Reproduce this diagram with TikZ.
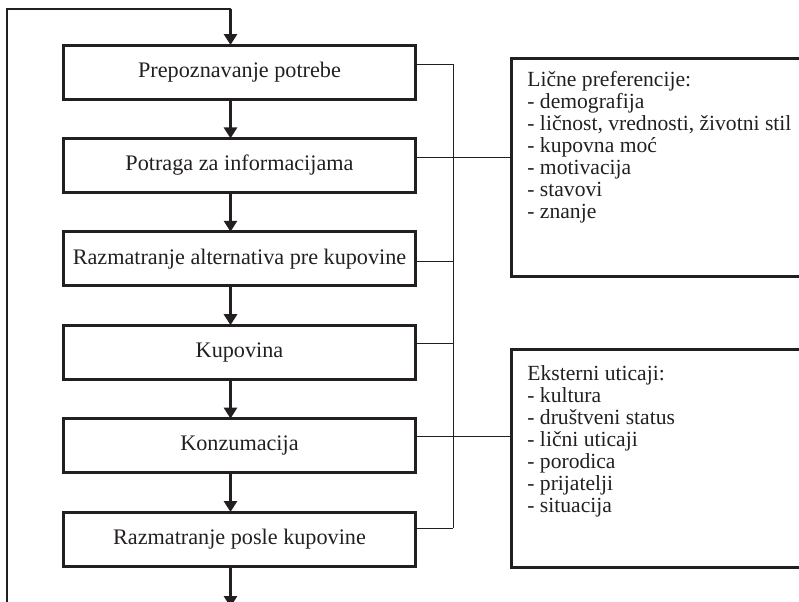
\documentclass[tikz,border=0pt]{standalone}
\usepackage{fontspec}
\setmainfont{Liberation Serif}
\usepackage{xcolor}
\definecolor{inkcolor}{HTML}{231F20}
\usepackage{tikz}
\usetikzlibrary{positioning,arrows.meta}
\tikzset{
    stage/.style={
        rectangle,
        draw=inkcolor,
        text=inkcolor,
        minimum height=27pt,
        minimum width=176pt,
        align=center,
        line width=1.5pt,
        outer sep=0pt,
        font=\fontsize{11.1}{11}\selectfont,
    },
    factorbox/.style={
        rectangle,
        draw=inkcolor,
        minimum height=109pt,
        minimum width=160pt,
        line width=1.5pt,
        outer sep=0pt,
        anchor=north west,
    },
    factortext/.style={
        text=inkcolor,
        align=left,
        inner sep=0pt,
        anchor=north west,
        font=\fontsize{10.8}{11}\selectfont,
    },
    flow/.style={
        -{Triangle[length=5.5pt,width=6.5pt]},
        line width=1.5pt,
        inkcolor,
    },
    link/.style={
        line width=0.75pt,
        inkcolor,
    },
    feedback/.style={
        line width=1pt,
        inkcolor,
    },
}
\begin{document}
\begin{tikzpicture}[x=0.5pt, y=-0.5pt, node distance=19.7pt]
    \clip (0,0) rectangle (799,601);
    % stages of the decision process
    \node[stage] (recog) at (239.5,72) {Prepoznavanje potrebe};
    \node[stage, below=of recog] (search) {Potraga za informacijama};
    \node[stage, below=of search] (evalpre) {Razmatranje alternativa pre kupovine};
    \node[stage, below=of evalpre] (purchase) {Kupovina};
    \node[stage, below=of purchase] (consume) {Konzumacija};
    \node[stage, below=of consume] (evalpost) {Razmatranje posle kupovine};
    \foreach \a/\b in {recog/search, search/evalpre, evalpre/purchase, purchase/consume, consume/evalpost}
        \draw[flow] ([xshift=-4.5pt]\a.south) -- ([xshift=-4.5pt]\b.north);
    % loop back to the start
    \coordinate (exit) at (230.5,607);
    \coordinate (loopout) at (7,610);
    \coordinate (loopin) at (230.5,9);
    \draw[flow] ([xshift=-4.5pt]evalpost.south) -- (exit);
    \draw[feedback] (loopout) |- (loopin);
    \draw[flow] (loopin) -- (loopin |- recog.north);
    % influence boxes
    \node[factorbox] (prefs) at (511.5,58.2) {};
    \node[factortext] (prefslist) at ([shift={(15.5,13)}]prefs.north west)
        {Lične preferencije:\\- demografija\\- ličnost, vrednosti, životni stil\\- kupovna moć\\- motivacija\\- stavovi\\- znanje};
    \node[factorbox] (extern) at (511.5,349.8) {};
    \node[factortext] (externlist) at ([shift={(15.5,15)}]extern.north west)
        {Eksterni uticaji:\\- kultura\\- društveni status\\- lični uticaji\\- porodica\\- prijatelji\\- situacija};
    % bus between stages and influences
    \coordinate (bus) at (453.3,0);
    \foreach \n/\s in {recog/3.85, search/4, evalpre/-1.45, purchase/4.45, consume/4.45, evalpost/5.35}
        \draw[link] ([yshift=\s pt]\n.east) -- ([yshift=\s pt]\n.east -| bus);
    \draw[link] ([yshift=3.85pt]recog.east -| bus) -- ([yshift=5.35pt]evalpost.east -| bus);
    \draw[link] ([yshift=4pt]search.east -| bus) -- ([yshift=4pt]search.east -| prefs.west);
    \draw[link] ([yshift=4.45pt]consume.east -| bus) -- ([yshift=4.45pt]consume.east -| extern.west);
\end{tikzpicture}
\end{document}
